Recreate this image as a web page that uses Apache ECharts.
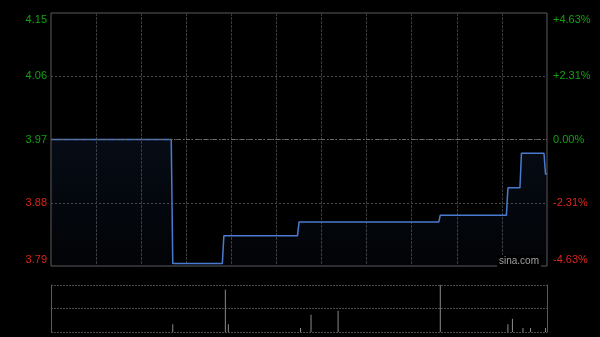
<!DOCTYPE html>
<html>
<head>
<meta charset="utf-8">
<script src="https://cdn.jsdelivr.net/npm/echarts@6/dist/echarts.min.js"></script>
<style>
html,body{margin:0;padding:0;background:#000;}
#c{width:600px;height:337px;}
</style>
</head>
<body>
<div id="c"></div>
<script>
// ---- data ----
const prevClose = 3.97;
const rangePct = 4.63;                       // +/- range shown
const changeMinutes = [0, 81, 115, 165, 259, 304, 313, 329]; // minutes after 9:30 (trading minutes)
const prices        = [3.97, 3.79, 3.83, 3.85, 3.86, 3.90, 3.95, 3.92];
const endMinute = 330;
const volMinutes = [81, 116, 118, 166, 173, 191, 259, 304, 307, 314, 319, 329];
const volumes    = [20000, 108000, 20000, 10000, 44000, 54000, 120000, 20000, 34000, 10000, 10000, 10000];
const priceLabels = ['3.79', '3.88', '3.97', '4.06', '4.15'];
const pctLabels   = ['-4.63%', '-2.31%', '0.00%', '+2.31%', '+4.63%'];

// ---- build line data (price holds until the next change) ----
const lineData = [];
for (let i = 0; i < changeMinutes.length; i++) {
  lineData.push([changeMinutes[i], prices[i]]);
  const next = i + 1 < changeMinutes.length ? changeMinutes[i + 1] - 1 : endMinute;
  if (next > changeMinutes[i]) lineData.push([next, prices[i]]);
}
const volData = volMinutes.map((m, i) => [m, volumes[i]]);
const volMax = Math.max.apply(null, volumes);

const GREEN = '#12a012', RED = '#d8261c';
const FONT = 'Arial, "Liberation Sans", sans-serif';
const FS = 11;
function richSet() {
  return {
    g:  {color: GREEN, fontSize: FS, fontFamily: FONT},
    gT: {color: GREEN, fontSize: FS, fontFamily: FONT, padding: [13, 0, 0, 0]},
    r:  {color: RED, fontSize: FS, fontFamily: FONT},
    rB: {color: RED, fontSize: FS, fontFamily: FONT, padding: [0, 0, 13, 0]}
  };
}
function styled(labels) {
  return function (v, idx) {
    const i = Math.round(v) + 2;
    const t = labels[i];
    if (i === 0) return '{rB|' + t + '}';
    if (i === 1) return '{r|' + t + '}';
    if (i === 4) return '{gT|' + t + '}';
    return '{g|' + t + '}';
  };
}

const lo = prevClose * (1 - rangePct / 100);
const hi = prevClose * (1 + rangePct / 100);

const chart = echarts.init(document.getElementById('c'), null, {renderer: 'canvas'});
chart.setOption({
  backgroundColor: '#000',
  animation: false,
  grid: [
    {left: 51, width: 496, top: 13, height: 253, show: true, borderColor: '#5a5a5a', borderWidth: 1, backgroundColor: 'transparent'},
    {left: 51, width: 496, top: 285, height: 47, show: false}
  ],
  xAxis: [
    {gridIndex: 0, type: 'value', min: 0, max: endMinute, interval: 30,
     axisLine: {show: false}, axisTick: {show: false}, axisLabel: {show: false},
     splitLine: {show: true, showMinLine: false, showMaxLine: false, lineStyle: {color: '#3a3a3a', type: [3, 1], width: 1}}},
    {gridIndex: 1, type: 'value', min: 0, max: endMinute, show: false}
  ],
  yAxis: [
    {gridIndex: 0, type: 'value', min: -2, max: 2, interval: 1, position: 'left',
     axisLine: {show: false}, axisTick: {show: false},
     axisLabel: {margin: 4, formatter: styled(priceLabels), rich: richSet()},
     splitLine: {show: true, showMinLine: false, showMaxLine: false, lineStyle: {color: '#4a4a4a', type: [2, 2], width: 1}}},
    {gridIndex: 0, type: 'value', min: -2, max: 2, interval: 1, position: 'right',
     axisLine: {show: false}, axisTick: {show: false},
     axisLabel: {margin: 6, formatter: styled(pctLabels), rich: richSet()},
     splitLine: {show: false}},
    {gridIndex: 0, type: 'value', min: lo, max: hi, show: false},
    {gridIndex: 1, type: 'value', min: 0, max: volMax, interval: volMax / 2, position: 'left',
     axisLine: {show: true, lineStyle: {color: '#5a5a5a'}}, axisTick: {show: false}, axisLabel: {show: false},
     splitLine: {show: true, lineStyle: {color: '#4a4a4a', type: [2, 1], width: 1}}},
    {gridIndex: 1, type: 'value', min: 0, max: volMax, position: 'right',
     axisLine: {show: true, lineStyle: {color: '#5a5a5a'}}, axisTick: {show: false}, axisLabel: {show: false},
     splitLine: {show: false}}
  ],
  graphic: [
    {type: 'text', left: 497, top: 255, z: 50,
     style: {text: 'sina.com', fill: '#a0a0a0', font: '10px Arial, "Liberation Sans", sans-serif', backgroundColor: '#000', padding: [1, 2, 1, 2]}}
  ],
  series: [
    {type: 'line', xAxisIndex: 0, yAxisIndex: 2, data: lineData, showSymbol: false, symbol: 'none',
     lineStyle: {color: '#4a7bd0', width: 1.5},
     areaStyle: {color: new echarts.graphic.LinearGradient(0, 0, 0, 1, [
       {offset: 0, color: 'rgba(40,75,140,0.22)'}, {offset: 1, color: 'rgba(40,75,140,0.06)'}])},
     markLine: {silent: true, symbol: 'none', label: {show: false},
       lineStyle: {color: '#6a6a6a', type: [4, 2, 1, 2], width: 1},
       data: [{yAxis: prevClose}]},
     z: 3},
    {type: 'bar', xAxisIndex: 1, yAxisIndex: 3, data: volData, barWidth: 1,
     itemStyle: {color: '#8a8a8a'}}
  ]
});
</script>
</body>
</html>
